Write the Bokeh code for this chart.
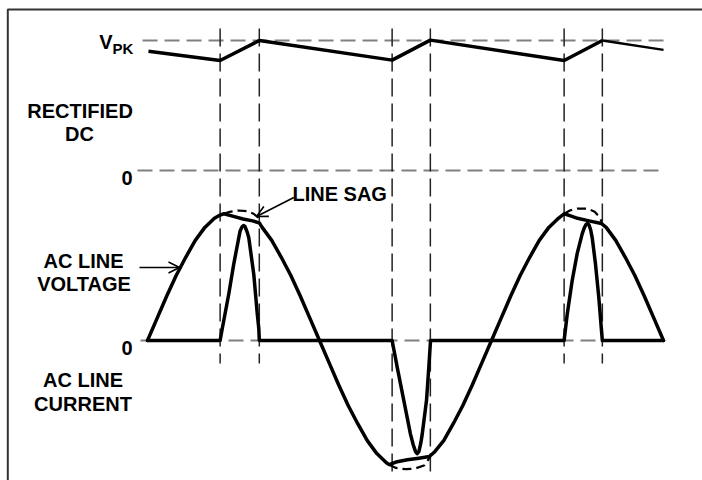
from bokeh.plotting import figure
from bokeh.models import Range1d, Label, Arrow, OpenHead
from bokeh.embed import file_html
from bokeh.resources import INLINE

# ---- data (x in electrical degrees, values normalised to line peak) ----
volt_deg = [0, 10, 20, 30, 40, 50, 60, 70, 76, 80, 90, 100, 110, 117,
            120, 130, 140, 150, 160, 170, 180, 190, 200, 210, 220, 230, 240, 250,
            253, 260, 272, 284, 295, 300, 310, 320, 330, 340, 350, 360,
            370, 380, 390, 400, 410, 420, 430, 436, 442, 450, 462, 475,
            480, 490, 500, 510, 520, 530, 540]
volt_val = [0, 0.17, 0.34, 0.50, 0.64, 0.77, 0.87, 0.94, 0.965, 0.975, 0.955, 0.935, 0.92, 0.905,
            0.87, 0.77, 0.64, 0.50, 0.34, 0.17, 0, -0.17, -0.34, -0.50, -0.64, -0.77, -0.87, -0.94,
            -0.955, -0.935, -0.918, -0.905, -0.892, -0.86, -0.77, -0.64, -0.50, -0.34, -0.17, 0,
            0.17, 0.34, 0.50, 0.64, 0.77, 0.87, 0.94, 0.975, 0.96, 0.94, 0.92, 0.90,
            0.87, 0.77, 0.64, 0.50, 0.34, 0.17, 0]

curr_deg = [0,
            76, 78.2, 85.1, 90.3, 95.5, 97, 99, 100.5, 102, 104.5, 106, 111.2, 114.8, 116.5, 117,
            256, 261.3, 268.2, 275.2, 278, 280.5, 282.2, 284, 286, 287.5, 292, 294.4, 296.2,
            436, 439.2, 444.4, 449.7, 454.9, 457, 459, 460.5, 462, 463.8, 465.4, 468.8, 472.3, 475.1, 476,
            540]
curr_val = [0,
            0, 0.09, 0.36, 0.59, 0.79, 0.845, 0.875, 0.885, 0.878, 0.83, 0.79, 0.51, 0.21, 0.09, 0,
            0, -0.205, -0.46, -0.72, -0.8, -0.855, -0.87, -0.855, -0.79, -0.72, -0.46, -0.205, 0,
            0, 0.2, 0.46, 0.67, 0.82, 0.865, 0.893, 0.9, 0.89, 0.85, 0.79, 0.59, 0.33, 0.077, 0,
            0]

dc_deg = [1, 76, 117, 256, 296, 436, 476]
dc_val = [0.918, 0.846, 1.0, 0.849, 1.003, 0.846, 1.0]
dc_tail_deg = [476, 540]
dc_tail_val = [1.0, 0.928]

sag1_deg = [80, 86, 95, 104, 111, 116, 118]
sag1_val = [0.975, 0.99, 1.0, 0.995, 0.975, 0.945, 0.905]
sag2_deg = [253, 260, 270, 280, 290, 296]
sag2_val = [-0.955, -0.98, -0.99, -0.985, -0.96, -0.892]
sag3_deg = [436, 442, 450, 460, 468, 473, 476]
sag3_val = [0.975, 1.0, 1.015, 1.015, 0.99, 0.95, 0.9]

cond_deg = [76, 117, 256, 296, 436, 476]   # diode conduction edges
cond_top = [2.4] * 6
cond_bot = [-0.177, -0.177, -1.023, -1.023, -0.177, -0.177]

# ---- figure ----
p = figure(width=702, height=480, output_backend="svg", toolbar_location=None,
           x_range=Range1d(-153.84, 580.81), y_range=Range1d(-1.0769, 2.6154),
           x_axis_location=None, y_axis_location=None, min_border=0,
           outline_line_color=None, background_fill_color="white",
           border_fill_color="white")
p.grid.visible = False
p.extra_y_ranges = {"dc": Range1d(-2.3846, 1.3077)}

GRAY = "#808080"
# horizontal reference lines
p.line([-5.2, 540], [1.0, 1.0], y_range_name="dc", line_color=GRAY, line_width=2, line_dash="15 7")
p.line([-10.5, 539], [0, 0], y_range_name="dc", line_color=GRAY, line_width=2, line_dash="15 7")
p.line([-7.3, 540], [0, 0], line_color=GRAY, line_width=2, line_dash="15 7")

# vertical conduction markers
p.segment(x0=cond_deg, y0=cond_top, x1=cond_deg, y1=cond_bot,
          line_color="#222222", line_width=1.5, line_dash="18 7")

# waveforms
p.line(dc_deg, dc_val, y_range_name="dc", line_color="black", line_width=3.5, line_join="round")
p.line(dc_tail_deg, dc_tail_val, y_range_name="dc", line_color="black", line_width=2.5)
p.line(volt_deg, volt_val, line_color="black", line_width=3.5, line_join="round", line_cap="round")
p.line(curr_deg, curr_val, line_color="black", line_width=3.5, line_join="round", line_cap="round")
for xs, ys in ((sag1_deg, sag1_val), (sag2_deg, sag2_val), (sag3_deg, sag3_val)):
    p.line(xs, ys, line_color="black", line_width=2.2, line_dash="9 5")

# frame (top and left edges)
p.line([-146.2, -146.2, 600], [-1.2, 2.546, 2.546], line_color="#333333", line_width=2)

FONT = "Liberation Sans"
def lab(x, y, text, align="center", size="20px", rng="default"):
    p.add_layout(Label(x=x, y=y, text=text, text_font=FONT, text_font_style="bold",
                       text_font_size=size, text_align=align, text_baseline="alphabetic",
                       text_color="black", y_range_name=rng))

lab(-36.6, 0.985, "V", align="right", rng="dc")
lab(-36.6, 0.938, "PK", align="left", size="15px", rng="dc")
lab(-70.6, 0.454, "RECTIFIED", rng="dc")
lab(-71.2, 0.277, "DC", rng="dc")
lab(-15.7, -0.054, "0", align="right", rng="dc")
lab(-15.7, -0.054, "0", align="right")
lab(-67.0, 0.615, "AC LINE")
lab(-66.4, 0.438, "VOLTAGE")
lab(-67.5, -0.300, "AC LINE")
lab(-67.5, -0.485, "CURRENT")
lab(151.7, 1.127, "LINE SAG", align="left")

p.add_layout(Arrow(x_start=-8.4, y_start=0.5615, x_end=33.5, y_end=0.5615,
                   line_color="black", line_width=1.6,
                   end=OpenHead(size=11, line_width=1.6, line_color="black")))
p.add_layout(Arrow(x_start=153.1, y_start=1.10, x_end=114.1, y_end=0.954,
                   line_color="black", line_width=1.6,
                   end=OpenHead(size=11, line_width=1.6, line_color="black")))

open("out.html", "w").write(file_html(p, INLINE))
